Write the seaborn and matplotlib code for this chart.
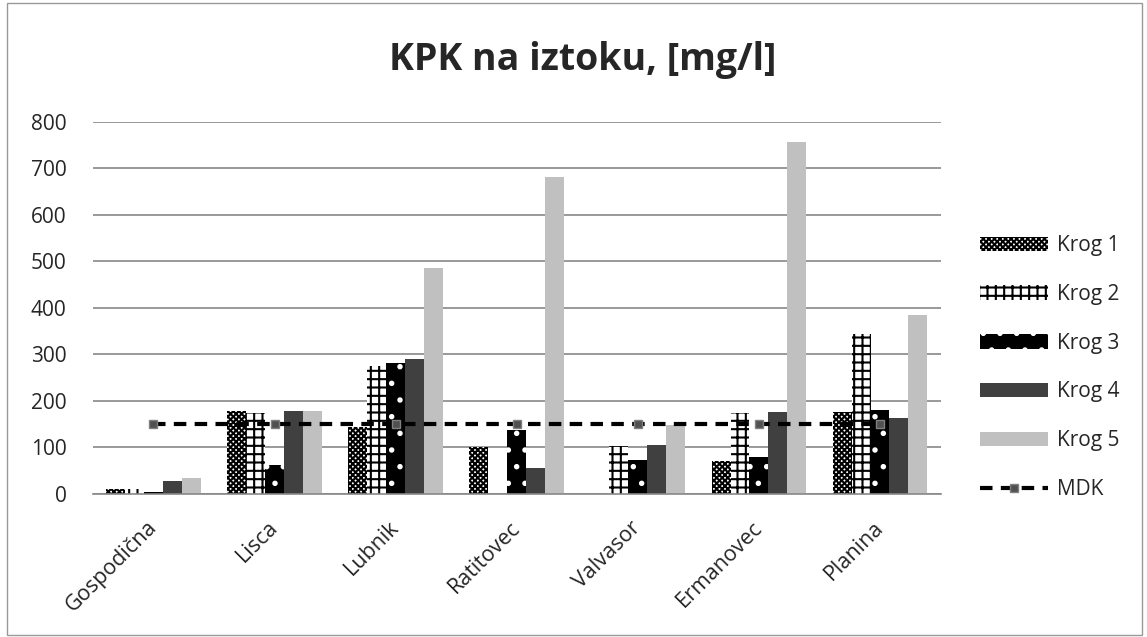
import matplotlib.pyplot as plt
import matplotlib.patches as mpatches
from matplotlib.lines import Line2D
import pandas as pd
import seaborn as sns

# data
sites = ['Gospodična', 'Lisca', 'Lubnik', 'Ratitovec', 'Valvasor', 'Ermanovec', 'Planina']
krog1 = [10, 178, 145, 101, 0, 71, 176]
krog2 = [10, 175, 275, 0, 103, 174, 344]
krog3 = [4, 62, 282, 138, 73, 80, 180]
krog4 = [27, 178, 290, 56, 105, 176, 164]
krog5 = [35, 178, 486, 682, 148, 757, 385]
mdk = [150] * 7
series = ['Krog 1', 'Krog 2', 'Krog 3', 'Krog 4', 'Krog 5']

rows = []
for name, vals in zip(series, [krog1, krog2, krog3, krog4, krog5]):
    for s, v in zip(sites, vals):
        rows.append({'site': s, 'krog': name, 'value': v})
df = pd.DataFrame(rows)

sns.set_style('white')
plt.rcParams['font.family'] = ['Open Sans', 'DejaVu Sans']
plt.rcParams['hatch.linewidth'] = 1.5

fig = plt.figure(figsize=(11.47, 6.37), dpi=100)
ax = fig.add_axes([0.081, 0.2245, 0.739, 0.584])

# (face, hatch colour, hatch)
styles = [('white', 'black', 'xxxxxx'),
          ('white', 'black', '++'),
          ('black', 'white', '.'),
          ('#404040', '#404040', ''),
          ('#c0c0c0', '#c0c0c0', '')]

sns.barplot(data=df, x='site', y='value', hue='krog', order=sites, hue_order=series,
            width=0.78, gap=0, ax=ax, legend=False, saturation=1)

for cont, (fc, ec, h) in zip(ax.containers, styles):
    for p in cont:
        p.set_facecolor(fc)
        p.set_edgecolor(ec)
        p.set_hatch(h)
        p.set_linewidth(0)

ax.plot(range(len(sites)), mdk, color='black', linestyle=(0, (3, 2)), linewidth=3,
        marker='s', markersize=6, markerfacecolor='#505050', markeredgecolor='#808080', zorder=5)

ax.set_ylim(0, 800)
ax.set_yticks(range(0, 801, 100))
ax.set_xlim(-0.5, len(sites) - 0.5)
ax.yaxis.grid(True, color='#888888', linewidth=1.2)
ax.set_axisbelow(True)
ax.set_xlabel('')
ax.set_ylabel('')
for sp in ['top', 'right', 'left']:
    ax.spines[sp].set_visible(False)
ax.spines['bottom'].set_color('#888888')
ax.spines['bottom'].set_linewidth(1.2)
ax.tick_params(axis='y', labelsize=15, length=0, pad=19)
ax.tick_params(axis='x', labelsize=15.5, length=0, pad=22)
plt.setp(ax.get_xticklabels(), rotation=45, ha='right', va='center', rotation_mode='anchor')

fig.suptitle('KPK na iztoku, [mg/l]', x=0.508, y=0.935, fontsize=27, fontweight='bold')

handles = [mpatches.Patch(facecolor=fc, edgecolor=ec, hatch=h, linewidth=0, label=s)
           for s, (fc, ec, h) in zip(series, styles)]
handles.append(Line2D([], [], color='black', linestyle=(0, (3, 2)), linewidth=3, marker='s',
                      markersize=6, markerfacecolor='#505050', markeredgecolor='#808080', label='MDK'))
fig.legend(handles=handles, loc='center left', bbox_to_anchor=(0.854, 0.423), frameon=False,
           fontsize=15, handlelength=3.3, handleheight=0.7, labelspacing=1.33, handletextpad=0.4,
           borderaxespad=0, borderpad=0)

fig.patches.append(mpatches.Rectangle((0.006, 0.003), 0.99, 0.992, transform=fig.transFigure,
                                      fill=False, edgecolor='#999999', linewidth=1))

fig.savefig('out.png', dpi=100)
